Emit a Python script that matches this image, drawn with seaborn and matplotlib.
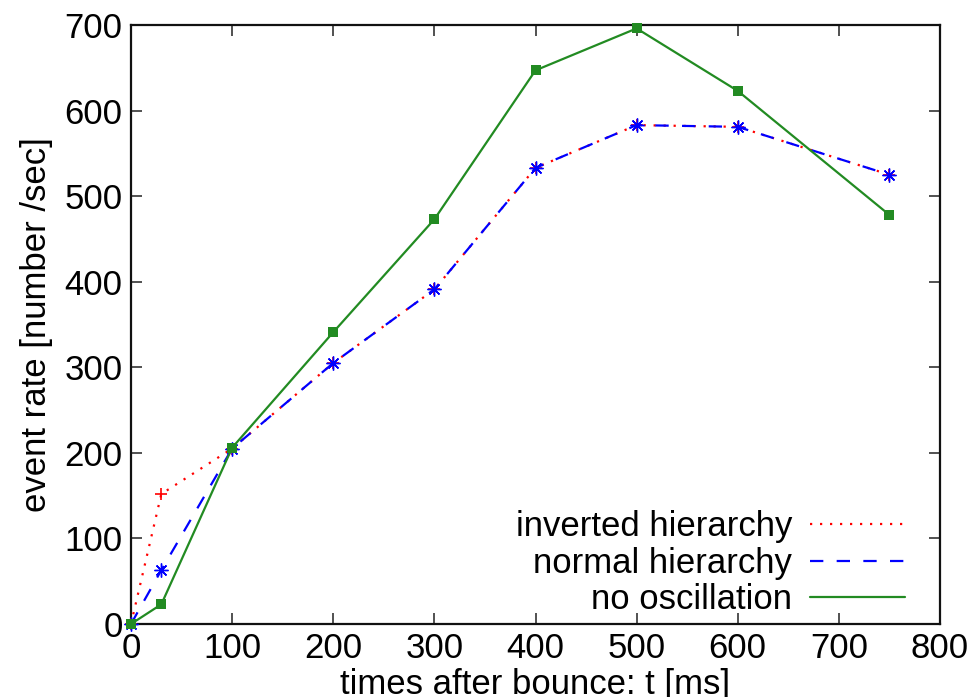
import matplotlib
matplotlib.use("Agg")
import matplotlib.pyplot as plt
import seaborn as sns
import pandas as pd
from matplotlib.lines import Line2D

# data
times = [0, 30, 100, 200, 300, 400, 500, 600, 750]
inverted = [0, 152, 205, 305, 391, 533, 583, 581, 525]
normal = [0, 63, 205, 305, 391, 533, 583, 581, 525]
no_osc = [0, 23, 206, 341, 473, 647, 696, 623, 478]
labels = ["inverted hierarchy", "normal hierarchy", "no oscillation"]
xticks = [0, 100, 200, 300, 400, 500, 600, 700, 800]
yticks = [0, 100, 200, 300, 400, 500, 600, 700]

sns.set_style("ticks")
plt.rcParams['font.family'] = ['Liberation Sans Narrow', 'Liberation Sans', 'DejaVu Sans']
plt.rcParams.update({"text.color": "black", "axes.labelcolor": "black",
                     "xtick.color": "black", "ytick.color": "black"})
fs = 25

fig = plt.figure(figsize=(9.76, 6.97), dpi=100)
ax = fig.add_axes([131/976, 1-624/697, (940-131)/976, (624-25)/697])

df = pd.DataFrame({"t": times, "inv": inverted, "nor": normal, "no": no_osc})

sns.lineplot(data=df, x="t", y="inv", ax=ax, color="#ff0000", lw=1.6,
             linestyle=(0, (1, 3.5)), marker="+", markersize=9,
             markeredgewidth=1.2, markeredgecolor="#ff0000", clip_on=False, zorder=3)
sns.lineplot(data=df, x="t", y="nor", ax=ax, color="#0000ff", lw=1.6,
             linestyle=(0, (6, 6)), marker=(8, 2, 0), markersize=10,
             markeredgewidth=1.0, markeredgecolor="#0000ff", clip_on=False, zorder=4)
sns.lineplot(data=df, x="t", y="no", ax=ax, color="#228b22", lw=1.6,
             marker="s", markersize=7, markeredgewidth=0,
             markerfacecolor="#228b22", clip_on=False, zorder=5)

ax.set_xlim(0, 800)
ax.set_ylim(0, 700)
ax.set_xticks(xticks)
ax.set_yticks(yticks)
ax.tick_params(direction="in", length=8, width=1.2, top=True, right=True,
               labelsize=fs, pad=6, color="#333333")
for s in ax.spines.values():
    s.set_linewidth(1.6)
    s.set_color("#111111")
    s.set_visible(True)
ax.set_xlabel("times after bounce: t [ms]", fontsize=fs, labelpad=2)
ax.set_ylabel("event rate [number /sec]", fontsize=fs, labelpad=8)

handles = [
    Line2D([], [], color="#ff0000", lw=1.6, linestyle=(0, (1, 3.5))),
    Line2D([], [], color="#0000ff", lw=1.6, linestyle=(0, (6, 6))),
    Line2D([], [], color="#228b22", lw=1.6),
]
leg = ax.legend(handles, labels, loc="lower right", frameon=False, markerfirst=False,
                fontsize=fs, handlelength=2.75, handletextpad=0.5, labelspacing=0.1,
                borderpad=0.0, borderaxespad=0.0, bbox_to_anchor=(0.957, 0.013))

fig.savefig("out.png", dpi=100)
